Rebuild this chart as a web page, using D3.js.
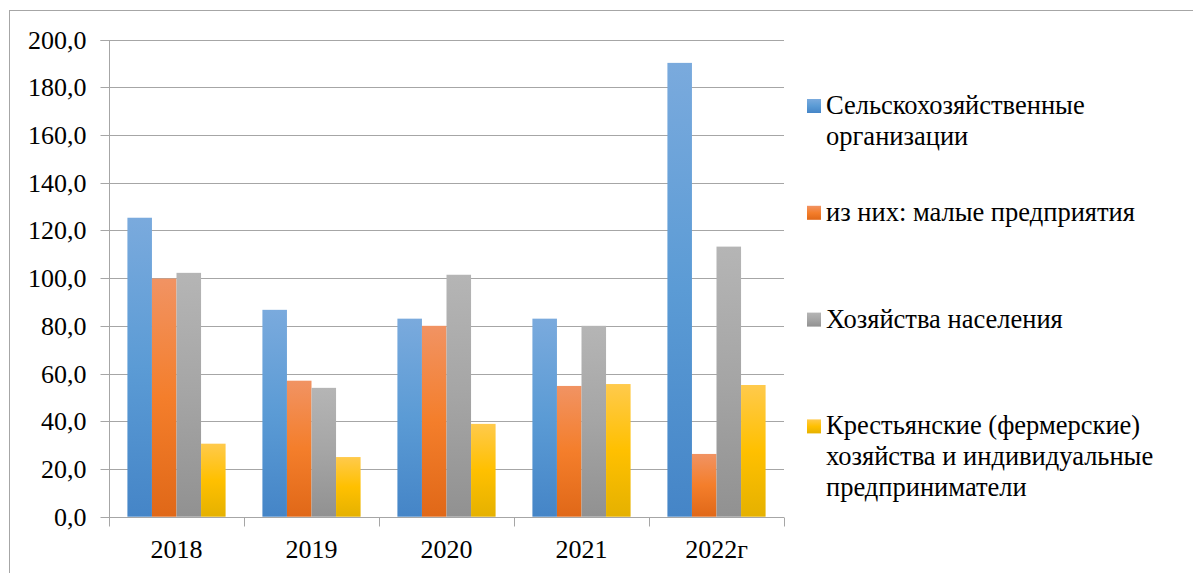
<!DOCTYPE html>
<html>
<head>
<meta charset="utf-8">
<script src="https://cdn.jsdelivr.net/npm/d3@7/dist/d3.min.js"></script>
</head>
<body style="margin:0">
<svg id="chart" width="1193" height="573" font-family="Liberation Serif"></svg>
<script>
const categories = ["2018", "2019", "2020", "2021", "2022г"];
const seriesNames = [
  "Сельскохозяйственные организации",
  "из них: малые предприятия",
  "Хозяйства населения",
  "Крестьянские (фермерские) хозяйства и индивидуальные предприниматели"
];
const agriOrgs     = [125.3, 86.7, 83.0, 83.0, 190.2];
const smallFirms   = [99.8, 57.0, 80.0, 54.8, 26.3];
const households   = [102.2, 54.0, 101.4, 80.0, 113.2];
const farmers      = [30.6, 25.0, 38.9, 55.6, 55.2];
const yTicks = [0, 20, 40, 60, 80, 100, 120, 140, 160, 180, 200];

const seriesValues = [agriOrgs, smallFirms, households, farmers];
const colors = [
  { top: "#7aaadd", mid: "#5b9bd5", bot: "#4585c7" },
  { top: "#f19363", mid: "#f47e2b", bot: "#e06818" },
  { top: "#b5b5b5", mid: "#a5a5a5", bot: "#919191" },
  { top: "#ffca4c", mid: "#ffc000", bot: "#e5b100" }
];
const FONT = "Liberation Serif";
const AXIS_FS = 26, LEG_FS = 26.5;

const svg = d3.select("#chart");
const W = 1193, H = 573;
const plot = { left: 109, right: 784, top: 39.5, bottom: 516.7 };

const defs = svg.append("defs");
colors.forEach((c, i) => {
  const g = defs.append("linearGradient").attr("id", "grad" + i)
    .attr("x1", 0).attr("y1", 0).attr("x2", 0).attr("y2", 1);
  g.append("stop").attr("offset", "0%").attr("stop-color", c.top);
  g.append("stop").attr("offset", "50%").attr("stop-color", c.mid);
  g.append("stop").attr("offset", "100%").attr("stop-color", c.bot);
});

svg.append("rect").attr("x", 9.5).attr("y", 10.5)
  .attr("width", W + 20).attr("height", H + 20)
  .attr("fill", "none").attr("stroke", "#a6a6a6").attr("stroke-width", 1);

const y = d3.scaleLinear().domain([0, 200]).range([plot.bottom, plot.top]);
const gapRatio = 1.5 / 5.5;
const x0 = d3.scaleBand().domain(categories).range([plot.left, plot.right])
  .paddingInner(gapRatio).paddingOuter(gapRatio / 2);
const x1 = d3.scaleBand().domain(d3.range(seriesValues.length)).range([0, x0.bandwidth()]).padding(0);
const xb = d3.scaleBand().domain(categories).range([plot.left, plot.right]).padding(0);

svg.append("g").selectAll("line").data(yTicks).join("line")
  .attr("x1", plot.left).attr("x2", plot.right)
  .attr("y1", d => Math.round(y(d)) + 0.5).attr("y2", d => Math.round(y(d)) + 0.5)
  .attr("stroke", "#a6a6a6").attr("stroke-width", 1);

const groups = svg.append("g").selectAll("g").data(categories).join("g")
  .attr("transform", d => `translate(${x0(d)},0)`);
groups.selectAll("rect").data((d, ci) => seriesValues.map((s, si) => ({ si, v: s[ci] })))
  .join("rect")
  .attr("x", d => x1(d.si))
  .attr("width", x1.bandwidth())
  .attr("y", d => y(d.v))
  .attr("height", d => y(0) - y(d.v))
  .attr("fill", d => `url(#grad${d.si})`);

// y axis
const yAxis = d3.axisLeft(y).tickValues(yTicks).tickSize(9).tickPadding(14)
  .tickFormat(d => d3.format(".1f")(d).replace(".", ","));
const gy = svg.append("g").attr("transform", `translate(${plot.left + 0.5},0.5)`).call(yAxis);
gy.attr("font-family", FONT).attr("font-size", AXIS_FS);
gy.select(".domain").attr("stroke", "#a6a6a6").attr("d", `M-9,${Math.round(y(200))}H0V${Math.round(y(0))}`);
gy.selectAll(".tick line").attr("stroke", "#a6a6a6");
gy.selectAll(".tick").attr("transform", d => `translate(0,${Math.round(y(d))})`);
gy.selectAll(".tick text").attr("font-family", FONT).attr("font-size", AXIS_FS).attr("fill", "#000");

// x axis
const gx = svg.append("g").attr("transform", `translate(0,${Math.round(y(0)) + 0.5})`);
gx.append("line").attr("x1", plot.left).attr("x2", plot.right).attr("stroke", "#a6a6a6");
const bounds = categories.map(c => xb(c)).concat([plot.right]);
gx.selectAll("line.tk").data(bounds).join("line").attr("class", "tk")
  .attr("x1", d => Math.round(d) + 0.5).attr("x2", d => Math.round(d) + 0.5)
  .attr("y1", 0).attr("y2", 9).attr("stroke", "#a6a6a6");
gx.selectAll("text").data(categories).join("text")
  .attr("x", d => xb(d) + xb.bandwidth() / 2)
  .attr("y", 40)
  .attr("text-anchor", "middle")
  .attr("font-family", FONT).attr("font-size", AXIS_FS).attr("fill", "#000")
  .text(d => d);

// legend
const legend = svg.append("g").attr("font-family", FONT).attr("font-size", LEG_FS);
const legTop = 99, legStep = 106.8, maxW = 345, lineH = 31;
seriesNames.forEach((name, i) => {
  const g = legend.append("g").attr("transform", `translate(807,${legTop + i * legStep})`);
  g.append("rect").attr("x", 0).attr("y", 0).attr("width", 14).attr("height", 14)
    .attr("fill", `url(#grad${i})`);
  const t = g.append("text").attr("x", 19).attr("y", 15)
    .attr("font-family", FONT).attr("font-size", LEG_FS).attr("fill", "#000");
  const words = name.split(" ");
  let line = [];
  let ts = t.append("tspan").attr("x", 19).attr("dy", 0);
  words.forEach(w => {
    line.push(w);
    ts.text(line.join(" "));
    if (ts.node().getComputedTextLength() > maxW && line.length > 1) {
      line.pop();
      ts.text(line.join(" "));
      line = [w];
      ts = t.append("tspan").attr("x", 19).attr("dy", lineH).text(w);
    }
  });
});
</script>
</body>
</html>
